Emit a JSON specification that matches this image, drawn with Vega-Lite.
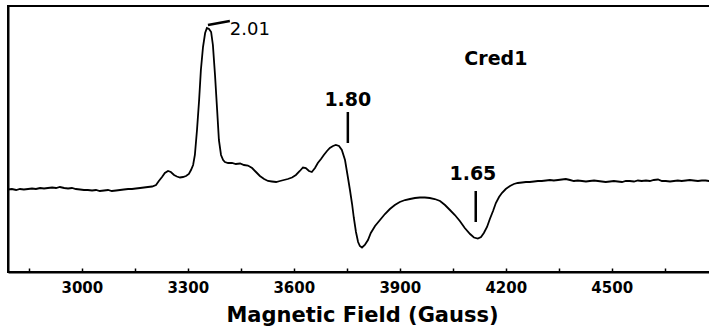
{
  "$schema": "https://vega.github.io/schema/vega-lite/v6.json",
  "width": 703,
  "height": 266,
  "autosize": {"type": "none"},
  "padding": {"left": 8, "top": 6, "right": 0, "bottom": 57},
  "background": "white",
  "config": {
    "view": {"stroke": "black", "strokeWidth": 2},
    "font": "DejaVu Sans"
  },
  "datasets": {
    "spectrum": [
      {"field": 2791, "signal": -0.5}, {"field": 2802, "signal": 0}, {"field": 2814, "signal": -1},
      {"field": 2825, "signal": 0}, {"field": 2836, "signal": -0.5}, {"field": 2848, "signal": 0},
      {"field": 2859, "signal": 0.5}, {"field": 2870, "signal": 0}, {"field": 2882, "signal": 1},
      {"field": 2893, "signal": 0.5}, {"field": 2904, "signal": 1}, {"field": 2916, "signal": 1.5},
      {"field": 2927, "signal": 1}, {"field": 2938, "signal": 2}, {"field": 2950, "signal": 1},
      {"field": 2961, "signal": 0.5}, {"field": 2972, "signal": 1}, {"field": 2983, "signal": 0},
      {"field": 2995, "signal": -0.5}, {"field": 3006, "signal": -1}, {"field": 3017, "signal": -1},
      {"field": 3029, "signal": -1.5}, {"field": 3040, "signal": -1}, {"field": 3051, "signal": -2},
      {"field": 3063, "signal": -1.5}, {"field": 3074, "signal": -1}, {"field": 3085, "signal": -2},
      {"field": 3097, "signal": -1.5}, {"field": 3108, "signal": -1}, {"field": 3119, "signal": -0.5},
      {"field": 3131, "signal": 0}, {"field": 3142, "signal": 0}, {"field": 3153, "signal": 0.5},
      {"field": 3165, "signal": 1}, {"field": 3176, "signal": 1.5}, {"field": 3187, "signal": 2},
      {"field": 3199, "signal": 2.5}, {"field": 3210, "signal": 4}, {"field": 3218, "signal": 8},
      {"field": 3227, "signal": 12}, {"field": 3235, "signal": 16}, {"field": 3244, "signal": 18},
      {"field": 3252, "signal": 17}, {"field": 3261, "signal": 14}, {"field": 3269, "signal": 12.5},
      {"field": 3278, "signal": 11.5}, {"field": 3286, "signal": 12}, {"field": 3295, "signal": 13},
      {"field": 3303, "signal": 15}, {"field": 3309, "signal": 19}, {"field": 3315, "signal": 24},
      {"field": 3320, "signal": 34}, {"field": 3326, "signal": 59}, {"field": 3332, "signal": 89},
      {"field": 3337, "signal": 119}, {"field": 3343, "signal": 142}, {"field": 3349, "signal": 156},
      {"field": 3354, "signal": 161}, {"field": 3360, "signal": 160}, {"field": 3366, "signal": 157},
      {"field": 3371, "signal": 144}, {"field": 3377, "signal": 114}, {"field": 3383, "signal": 79},
      {"field": 3388, "signal": 49}, {"field": 3394, "signal": 34}, {"field": 3400, "signal": 29},
      {"field": 3405, "signal": 27}, {"field": 3414, "signal": 26}, {"field": 3425, "signal": 26},
      {"field": 3436, "signal": 25}, {"field": 3448, "signal": 25.5}, {"field": 3459, "signal": 24},
      {"field": 3470, "signal": 23.5}, {"field": 3482, "signal": 21}, {"field": 3493, "signal": 17},
      {"field": 3504, "signal": 13}, {"field": 3516, "signal": 10}, {"field": 3527, "signal": 8},
      {"field": 3538, "signal": 7.5}, {"field": 3550, "signal": 7}, {"field": 3561, "signal": 8},
      {"field": 3572, "signal": 9}, {"field": 3583, "signal": 10}, {"field": 3595, "signal": 11.5},
      {"field": 3606, "signal": 14}, {"field": 3617, "signal": 18}, {"field": 3626, "signal": 21.5},
      {"field": 3634, "signal": 21}, {"field": 3643, "signal": 18}, {"field": 3651, "signal": 17},
      {"field": 3660, "signal": 21}, {"field": 3668, "signal": 26}, {"field": 3677, "signal": 30},
      {"field": 3685, "signal": 34}, {"field": 3694, "signal": 38}, {"field": 3702, "signal": 41},
      {"field": 3711, "signal": 43}, {"field": 3719, "signal": 44}, {"field": 3728, "signal": 43},
      {"field": 3736, "signal": 39}, {"field": 3745, "signal": 29}, {"field": 3753, "signal": 12},
      {"field": 3759, "signal": -1}, {"field": 3765, "signal": -15}, {"field": 3770, "signal": -29},
      {"field": 3776, "signal": -43}, {"field": 3782, "signal": -53}, {"field": 3787, "signal": -57},
      {"field": 3793, "signal": -58.5}, {"field": 3801, "signal": -56}, {"field": 3810, "signal": -51},
      {"field": 3818, "signal": -44}, {"field": 3830, "signal": -37}, {"field": 3844, "signal": -31},
      {"field": 3858, "signal": -25}, {"field": 3872, "signal": -20}, {"field": 3886, "signal": -16},
      {"field": 3900, "signal": -13}, {"field": 3915, "signal": -11}, {"field": 3929, "signal": -10},
      {"field": 3943, "signal": -9}, {"field": 3957, "signal": -8.5}, {"field": 3971, "signal": -8.5},
      {"field": 3985, "signal": -9}, {"field": 3999, "signal": -10}, {"field": 4014, "signal": -12},
      {"field": 4028, "signal": -16}, {"field": 4042, "signal": -21}, {"field": 4056, "signal": -26},
      {"field": 4070, "signal": -32}, {"field": 4084, "signal": -39}, {"field": 4099, "signal": -45},
      {"field": 4110, "signal": -48.5}, {"field": 4121, "signal": -49.5}, {"field": 4130, "signal": -48},
      {"field": 4138, "signal": -44}, {"field": 4147, "signal": -38}, {"field": 4155, "signal": -30},
      {"field": 4164, "signal": -22}, {"field": 4172, "signal": -14}, {"field": 4181, "signal": -8},
      {"field": 4189, "signal": -4}, {"field": 4200, "signal": 0}, {"field": 4212, "signal": 3},
      {"field": 4223, "signal": 5}, {"field": 4234, "signal": 6}, {"field": 4246, "signal": 6.5},
      {"field": 4257, "signal": 7}, {"field": 4268, "signal": 7}, {"field": 4280, "signal": 7.5},
      {"field": 4291, "signal": 8}, {"field": 4302, "signal": 8}, {"field": 4314, "signal": 8.5},
      {"field": 4325, "signal": 9}, {"field": 4336, "signal": 8.5}, {"field": 4348, "signal": 9},
      {"field": 4359, "signal": 9.5}, {"field": 4370, "signal": 10}, {"field": 4382, "signal": 9},
      {"field": 4393, "signal": 8}, {"field": 4404, "signal": 8.5}, {"field": 4416, "signal": 8},
      {"field": 4427, "signal": 7.5}, {"field": 4438, "signal": 8}, {"field": 4450, "signal": 8.5},
      {"field": 4461, "signal": 8}, {"field": 4472, "signal": 7.5}, {"field": 4483, "signal": 7},
      {"field": 4495, "signal": 7.5}, {"field": 4506, "signal": 8}, {"field": 4517, "signal": 7.5},
      {"field": 4529, "signal": 7}, {"field": 4540, "signal": 8}, {"field": 4551, "signal": 8},
      {"field": 4563, "signal": 7.5}, {"field": 4574, "signal": 8.5}, {"field": 4585, "signal": 8},
      {"field": 4597, "signal": 8.5}, {"field": 4608, "signal": 8}, {"field": 4619, "signal": 9},
      {"field": 4631, "signal": 9.5}, {"field": 4642, "signal": 8}, {"field": 4653, "signal": 8},
      {"field": 4665, "signal": 7.5}, {"field": 4676, "signal": 8}, {"field": 4687, "signal": 8.5},
      {"field": 4698, "signal": 8}, {"field": 4710, "signal": 8.5}, {"field": 4721, "signal": 9},
      {"field": 4732, "signal": 8.5}, {"field": 4744, "signal": 8}, {"field": 4755, "signal": 8.5},
      {"field": 4766, "signal": 8.5}, {"field": 4775, "signal": 8}, {"field": 4781, "signal": 8.5}
    ],
    "markers": [
      {"g": 3357, "s": 164, "g2": 3419, "s2": 168},
      {"g": 3753, "s": 77, "g2": 3753, "s2": 46},
      {"g": 4115, "s": -2, "g2": 4115, "s2": -33}
    ],
    "gvalues": [
      {"g": 3753, "s": 89.5, "text": "1.80"},
      {"g": 4107, "s": 15.5, "text": "1.65"},
      {"g": 4172, "s": 130, "text": "Cred1"}
    ],
    "peak": [
      {"g": 3419, "s": 159, "text": "2.01"}
    ]
  },
  "layer": [
    {
      "data": {"name": "spectrum"},
      "mark": {"type": "line", "color": "black", "strokeWidth": 1.8, "clip": true},
      "encoding": {
        "x": {
          "field": "field",
          "type": "quantitative",
          "scale": {"domain": [2791, 4781], "nice": false, "zero": false},
          "axis": {
            "title": "Magnetic Field (Gauss)",
            "titleFont": "DejaVu Sans",
            "titleFontWeight": "bold",
            "titleFontSize": 21,
            "titleColor": "black",
            "titlePadding": 9,
            "titleX": 354,
            "values": [2850, 3000, 3150, 3300, 3450, 3600, 3750, 3900, 4050, 4200, 4350, 4500, 4650],
            "labelExpr": "datum.value % 300 == 0 ? format(datum.value, 'd') : ''",
            "labelFont": "DejaVu Sans",
            "labelFontWeight": "bold",
            "labelFontSize": 15,
            "labelColor": "black",
            "labelPadding": 12,
            "labelFlush": false,
            "tickSize": -4,
            "tickColor": "black",
            "tickWidth": 1.5,
            "domainColor": "black",
            "domainWidth": 2,
            "grid": false
          }
        },
        "y": {
          "field": "signal",
          "type": "quantitative",
          "scale": {"domain": [-83, 183], "nice": false, "zero": false},
          "axis": {
            "title": null,
            "labels": false,
            "ticks": false,
            "grid": false,
            "domainColor": "black",
            "domainWidth": 2
          }
        }
      }
    },
    {
      "data": {"name": "markers"},
      "mark": {"type": "rule", "color": "black", "strokeWidth": 2.5},
      "encoding": {
        "x": {"field": "g", "type": "quantitative"},
        "y": {"field": "s", "type": "quantitative"},
        "x2": {"field": "g2"},
        "y2": {"field": "s2"}
      }
    },
    {
      "data": {"name": "gvalues"},
      "mark": {"type": "text", "font": "DejaVu Sans", "fontWeight": "bold", "fontSize": 19, "color": "black", "align": "center", "baseline": "middle"},
      "encoding": {
        "x": {"field": "g", "type": "quantitative"},
        "y": {"field": "s", "type": "quantitative"},
        "text": {"field": "text"}
      }
    },
    {
      "data": {"name": "peak"},
      "mark": {"type": "text", "font": "DejaVu Sans", "fontSize": 18, "color": "black", "align": "left", "baseline": "middle"},
      "encoding": {
        "x": {"field": "g", "type": "quantitative"},
        "y": {"field": "s", "type": "quantitative"},
        "text": {"field": "text"}
      }
    }
  ]
}
